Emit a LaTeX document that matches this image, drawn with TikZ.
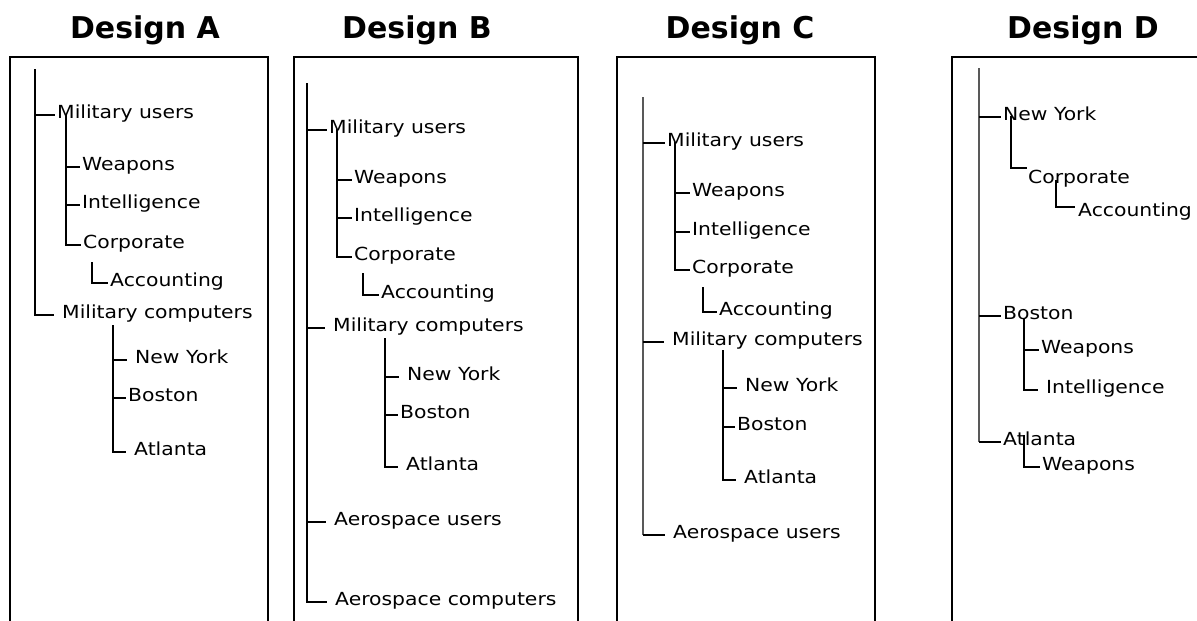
\documentclass[tikz,border=0pt]{standalone}
\usepackage{fontspec}
\setmainfont{DejaVu Sans}
\newfontfamily\treefont[FakeStretch=1.13]{DejaVu Sans}

\begin{document}
\begin{tikzpicture}[x=1pt,y=-1pt,line cap=butt,line join=miter,
  frame/.style={line width=2pt},
  link/.style={line width=1.5pt},
  trunk/.style={line width=2.5pt,black!65},
  title/.style={anchor=base,font=\bfseries\fontsize{30}{34}\selectfont},
  item/.style={anchor=west,inner xsep=2pt,inner ysep=0pt,text height=7pt,text depth=0pt,
    font=\treefont\fontsize{18}{21}\selectfont},
  loose/.style={item,inner xsep=8pt}]
\useasboundingbox (0,0) rectangle (1197,621);
\clip (0,0) rectangle (1197,621);

% headings
\node[title] (ta) at (145,38) {Design A};
\node[title] (tb) at (417,38) {Design B};
\node[title] (tc) at (740,38) {Design C};
\node[title] (td) at (1083,38) {Design D};

% frames, open below the page edge
\draw[frame] (10,57) rectangle (268,640);
\draw[frame] (294,57) rectangle (578,640);
\draw[frame] (617,57) rectangle (875,640);
\draw[frame] (952,57) rectangle (1220,640);

% ---- Design A
\coordinate (a0) at (35,69);
\coordinate (a1) at (66,114);
\coordinate (a2) at (92,262);
\coordinate (a3) at (113,325);
\node[item] (am) at (55,115) {Military users};
\node[item] (aw) at (80,167) {Weapons};
\node[item] (ai) at (80,205) {Intelligence};
\node[item] (ac) at (81,245) {Corporate};
\node[item] (aa) at (108,283) {Accounting};
\node[loose] (amc) at (54,315) {Military computers};
\node[loose] (an) at (127,360) {New York};
\node[item] (ab) at (126,398) {Boston};
\node[loose] (at) at (126,452) {Atlanta};
\draw[link] (a0) |- (am.west) (a0) |- (amc.west);
\draw[link] (a1) |- (aw.west) (a1) |- (ai.west) (a1) |- (ac.west);
\draw[link] (a2) |- (aa.west);
\draw[link] (a3) |- (an.west) (a3) |- (ab.west) (a3) |- (at.west);

% ---- Design B
\coordinate (b0) at (307,83);
\coordinate (b1) at (337,129);
\coordinate (b2) at (363,273);
\coordinate (b3) at (385,338);
\node[item] (bm) at (327,130) {Military users};
\node[item] (bw) at (352,180) {Weapons};
\node[item] (bi) at (352,218) {Intelligence};
\node[item] (bc) at (352,257) {Corporate};
\node[item] (ba) at (379,295) {Accounting};
\node[loose] (bmc) at (325,328) {Military computers};
\node[loose] (bn) at (399,377) {New York};
\node[item] (bb) at (398,415) {Boston};
\node[loose] (bt) at (398,467) {Atlanta};
\node[loose] (bau) at (326,522) {Aerospace users};
\node[loose] (bac) at (327,602) {Aerospace computers};
\draw[link] (b0) |- (bm.west) (b0) |- (bmc.west) (b0) |- (bau.west) (b0) |- (bac.west);
\draw[link] (b1) |- (bw.west) (b1) |- (bi.west) (b1) |- (bc.west);
\draw[link] (b2) |- (ba.west);
\draw[link] (b3) |- (bn.west) (b3) |- (bb.west) (b3) |- (bt.west);

% ---- Design C
\coordinate (c0) at (643,97);
\coordinate (c1) at (675,142);
\coordinate (c2) at (703,287);
\coordinate (c3) at (723,350);
\node[item] (cm) at (665,143) {Military users};
\node[item] (cw) at (690,193) {Weapons};
\node[item] (ci) at (690,232) {Intelligence};
\node[item] (cc) at (690,270) {Corporate};
\node[item] (ca) at (717,312) {Accounting};
\node[loose] (cmc) at (664,342) {Military computers};
\node[loose] (cn) at (737,388) {New York};
\node[item] (cb) at (735,427) {Boston};
\node[loose] (ct) at (736,480) {Atlanta};
\node[loose] (cau) at (665,535) {Aerospace users};
\draw[trunk] (c0) -- (c0 |- cau.west);
\draw[link] (c0 |- cm.west) -- (cm.west);
\draw[link] (c0 |- cmc.west) -- (cmc.west);
\draw[link] (c0 |- cau.west) -- (cau.west);
\draw[link] (c1) |- (cw.west) (c1) |- (ci.west) (c1) |- (cc.west);
\draw[link] (c2) |- (ca.west);
\draw[link] (c3) |- (cn.west) (c3) |- (cb.west) (c3) |- (ct.west);

% ---- Design D
\coordinate (d0) at (979,68);
\coordinate (d1) at (1011,116);
\coordinate (d2) at (1056,180);
\coordinate (d3) at (1024,318);
\coordinate (d4) at (1024,435);
\coordinate (dcj) at (1027,168);
\coordinate (daj) at (1075,207);
\node[item] (dn) at (1001,117) {New York};
\node[item,anchor=base west] (dc) at (1026,183) {Corporate};
\node[item,anchor=base west] (da) at (1076,216) {Accounting};
\node[item] (db) at (1001,316) {Boston};
\node[item] (dw) at (1039,350) {Weapons};
\node[loose] (di) at (1038,390) {Intelligence};
\node[item] (dt) at (1001,442) {Atlanta};
\node[item] (dw2) at (1040,467) {Weapons};
\draw[trunk] (d0) -- (d0 |- dt.west);
\draw[link] (d0 |- dn.west) -- (dn.west);
\draw[link] (d0 |- db.west) -- (db.west);
\draw[link] (d0 |- dt.west) -- (dt.west);
\draw[link] (d1) |- (dcj);
\draw[link] (d2) |- (daj);
\draw[link] (d3) |- (dw.west) (d3) |- (di.west);
\draw[link] (d4) |- (dw2.west);
\end{tikzpicture}
\end{document}
